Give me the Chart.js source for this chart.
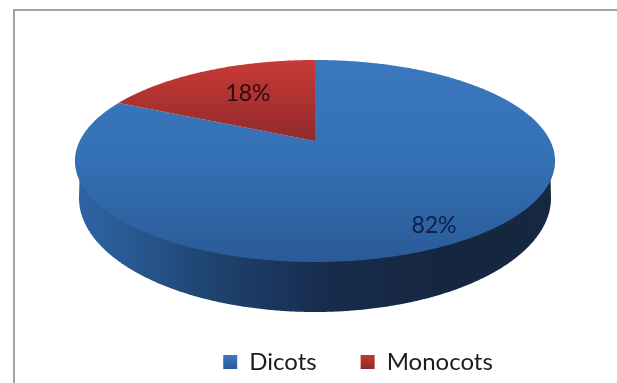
<!DOCTYPE html>
<html>
<head>
<meta charset="utf-8">
<title>Dicots and Monocots</title>
<style>
  html, body { margin: 0; padding: 0; background: #fff; }
  canvas { display: block; }
</style>
<script src="https://cdn.jsdelivr.net/npm/chart.js@4"></script>
</head>
<body>
<canvas id="chart" width="617" height="383"></canvas>
<script>
const categories = ['Dicots', 'Monocots'];
const shares = [82, 18];

// Vertical gradient stops for each slice's top face
const faceStops = [['#3a77be', '#3470b3', '#2a5a98'], ['#c83a37', '#ad3230', '#8f2a2a']];
const swatchStops = [['#3f7cc4', '#2b5c9c'], ['#c93b38', '#95292a']];
// Horizontal shading along the side wall, left to right
const wallStops = [[0, '#2c64a3'], [0.13, '#27578f'], [0.26, '#1f4673'], [0.40, '#1b3760'],
                   [0.53, '#172c4c'], [0.79, '#15263f'], [1, '#16283f']];
const labelColors = ['#101f45', '#2c0c12'];
const labelAnchors = [[434, 226], [248, 94]];

// Tilted disc: a projective map of the unit circle, hub sits above the rim's midpoint
const disc = { cx: 315, hubY: 141, a: 97.04, c: -0.198, A: 235.3, top: 60, bottom: 262 };
const base = { cx: 315, cy: 198, rx: 236, ry: 114 };

function project(theta) {
  const u = Math.sin(theta), v = -Math.cos(theta), w = 1 + disc.c * v;
  return [disc.cx + disc.A * u / w, disc.hubY + disc.a * v / w];
}

function fillGradient(ctx, y0, y1, stops) {
  const g = ctx.createLinearGradient(0, y0, 0, y1);
  stops.forEach((s, i) => g.addColorStop(i / (stops.length - 1), s));
  return g;
}

const tiltedPie = {
  id: 'tiltedPie',
  beforeDraw(chart) {
    const ctx = chart.ctx;
    ctx.save();
    ctx.strokeStyle = '#a3a3a3';
    ctx.lineWidth = 2;
    ctx.beginPath();
    ctx.moveTo(14, 383);
    ctx.lineTo(14, 10);
    ctx.lineTo(617, 10);
    ctx.stroke();
    ctx.restore();
  },
  beforeDatasetDraw(chart, args) {
    const ctx = chart.ctx;
    const arcs = chart.getDatasetMeta(args.index).data;
    const step = Math.PI / 360;
    ctx.save();

    // Side wall: only the part of a slice that faces the viewer
    arcs.forEach(arc => {
      const from = Math.max(arc.startAngle + Math.PI / 2, Math.PI / 2);
      const to = Math.min(arc.endAngle + Math.PI / 2, Math.PI * 1.5);
      if (to <= from) return;
      const wall = ctx.createLinearGradient(base.cx - base.rx, 0, base.cx + base.rx, 0);
      wallStops.forEach(s => wall.addColorStop(s[0], s[1]));
      ctx.fillStyle = wall;
      ctx.beginPath();
      for (let t = from; t <= to + 1e-6; t += step) {
        ctx.lineTo(base.cx + base.rx * Math.sin(t), base.cy - base.ry * Math.cos(t));
      }
      ctx.lineTo(project(to)[0], 170);
      ctx.lineTo(project(from)[0], 170);
      ctx.closePath();
      ctx.fill();
    });

    // Top face of every slice
    arcs.forEach((arc, i) => {
      const from = arc.startAngle + Math.PI / 2;
      const to = arc.endAngle + Math.PI / 2;
      const faceBottom = i === 0 ? disc.bottom : disc.hubY;
      ctx.fillStyle = fillGradient(ctx, disc.top, faceBottom, faceStops[i]);
      ctx.beginPath();
      ctx.moveTo(disc.cx, disc.hubY);
      for (let t = from; t < to; t += step) ctx.lineTo(...project(t));
      ctx.lineTo(...project(to));
      ctx.closePath();
      ctx.fill();
    });
    ctx.restore();
    return false;
  },
  afterDatasetsDraw(chart) {
    const ctx = chart.ctx;
    ctx.save();
    ctx.font = '23px Lato';
    ctx.textAlign = 'center';
    ctx.textBaseline = 'middle';
    shares.forEach((value, i) => {
      ctx.fillStyle = labelColors[i];
      ctx.fillText(value + '%', labelAnchors[i][0], labelAnchors[i][1]);
    });
    ctx.restore();
  }
};

new Chart(document.getElementById('chart'), {
  type: 'pie',
  data: {
    labels: categories,
    datasets: [{ data: shares, backgroundColor: ['#3470b3', '#ad3230'], borderWidth: 0 }]
  },
  plugins: [tiltedPie],
  options: {
    responsive: false,
    animation: false,
    layout: { padding: { left: 99, bottom: -1 } },
    plugins: {
      tooltip: { enabled: false },
      legend: {
        position: 'bottom',
        labels: {
          color: '#1c1c1c',
          font: { family: 'Lato', size: 24 },
          boxWidth: 14,
          boxHeight: 14,
          padding: 44,
          generateLabels(chart) {
            return categories.map((text, i) => ({
              text,
              index: i,
              fontColor: '#1c1c1c',
              lineWidth: 0,
              strokeStyle: 'transparent',
              fillStyle: fillGradient(chart.ctx, 354, 368, swatchStops[i])
            }));
          }
        }
      }
    }
  }
});
</script>
</body>
</html>
